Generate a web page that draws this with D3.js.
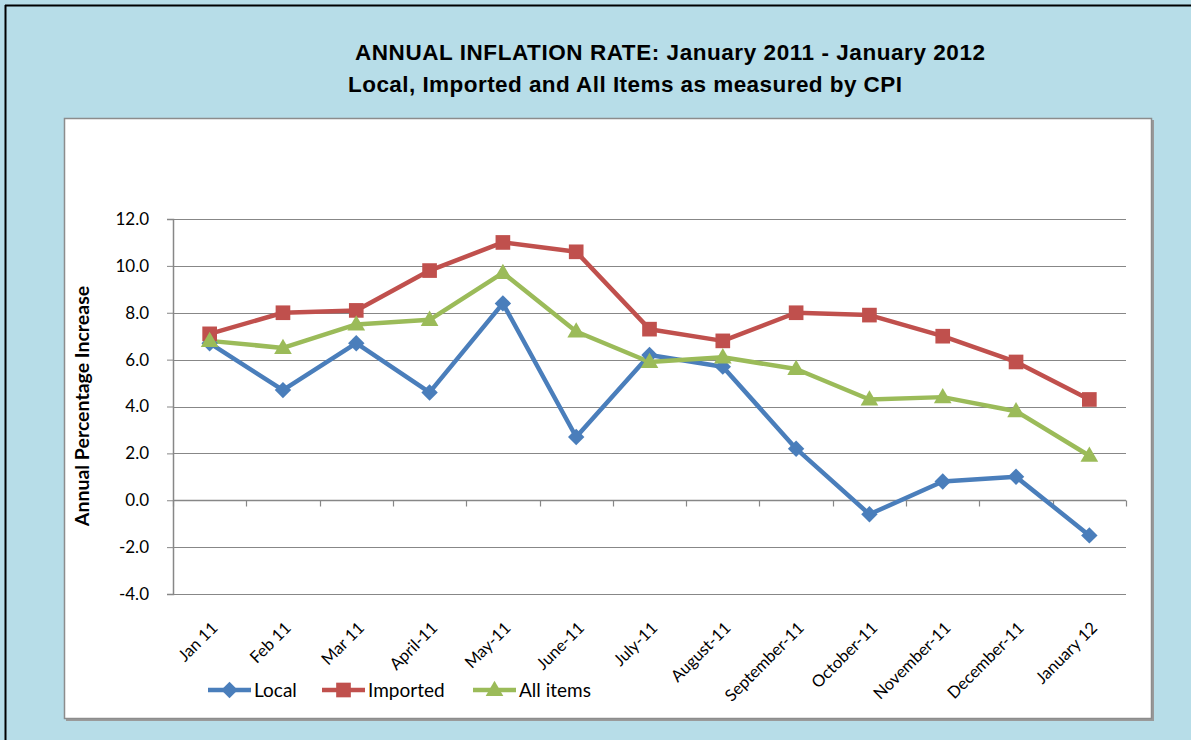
<!DOCTYPE html>
<html>
<head>
<meta charset="utf-8">
<script src="https://cdn.jsdelivr.net/npm/d3@7"></script>
<style>
  html, body { margin: 0; padding: 0; background: #b7dde8; }
  svg { display: block; }
</style>
</head>
<body>
<svg id="chart" width="1191" height="740"></svg>
<script>
const categories = ["Jan 11", "Feb 11", "Mar 11", "April-11", "May-11", "June-11", "July-11",
  "August-11", "September-11", "October-11", "November-11", "December-11", "January 12"];
const localValues    = [6.7, 4.7, 6.7, 4.6, 8.4, 2.7, 6.2, 5.7, 2.2, -0.6, 0.8, 1.0, -1.5];
const importedValues = [7.1, 8.0, 8.1, 9.8, 11.0, 10.6, 7.3, 6.8, 8.0, 7.9, 7.0, 5.9, 4.3];
const allItemsValues = [6.8, 6.5, 7.5, 7.7, 9.7, 7.2, 5.9, 6.1, 5.6, 4.3, 4.4, 3.8, 1.9];
const yTicks = [-4, -2, 0, 2, 4, 6, 8, 10, 12];
const seriesNames = ["Local", "Imported", "All items"];
const titleLines = ["ANNUAL INFLATION RATE: January 2011 - January 2012",
  "Local, Imported and All Items as measured by CPI"];
const yAxisTitle = "Annual Percentage Increase";

(function () {
const series = [
  { name: seriesNames[0], values: localValues, color: "#4a7ebb", symbol: "diamond" },
  { name: seriesNames[1], values: importedValues, color: "#c0504d", symbol: "square" },
  { name: seriesNames[2], values: allItemsValues, color: "#9bbb59", symbol: "triangle" }
];

const svg = d3.select("#chart");
const W = 1191, H = 740;

svg.append("rect").attr("x", 0).attr("y", 0).attr("width", W).attr("height", H).attr("fill", "#b7dde8");
svg.append("line").attr("x1", 5).attr("x2", W).attr("y1", 5.5).attr("y2", 5.5).attr("stroke", "#000").attr("stroke-width", 2);
svg.append("line").attr("x1", 5.5).attr("x2", 5.5).attr("y1", 5).attr("y2", H).attr("stroke", "#000").attr("stroke-width", 2);

// plot panel
svg.append("rect").attr("x", 66).attr("y", 120).attr("width", 1088).attr("height", 601).attr("fill", "#9a9a9a");
svg.append("rect").attr("x", 64.5).attr("y", 118.5).attr("width", 1087).attr("height", 600)
  .attr("fill", "#fff").attr("stroke", "#8c8c8c").attr("stroke-width", 1.5);

// titles
const tf = "'Liberation Sans', Arial, sans-serif";
svg.append("text").attr("x", 355).attr("y", 60)
  .attr("textLength", 630).attr("lengthAdjust", "spacing")
  .attr("font-family", tf).attr("font-weight", "bold").attr("font-size", 22.5).attr("fill", "#000").text(titleLines[0]);
svg.append("text").attr("x", 348).attr("y", 92)
  .attr("textLength", 554).attr("lengthAdjust", "spacing")
  .attr("font-family", tf).attr("font-weight", "bold").attr("font-size", 22.5).attr("fill", "#000").text(titleLines[1]);

const pL = 173, pR = 1126, pT = 219, pB = 594;
const x = d3.scaleBand().domain(categories).range([pL, pR]).paddingInner(0).paddingOuter(0);
const y = d3.scaleLinear().domain([-4, 12]).range([pB, pT]);
const cx = d => x(d) + x.bandwidth() / 2;
const lf = "Lato, 'Open Sans', sans-serif";
const fmt = d => d3.format(".1f")(d).replace("\u2212", "-");

// gridlines
svg.append("g").selectAll("line").data(yTicks).join("line")
  .attr("x1", pL).attr("x2", pR)
  .attr("y1", d => Math.round(y(d)) + 0.5).attr("y2", d => Math.round(y(d)) + 0.5)
  .attr("stroke", "#878787").attr("stroke-width", 1.2);

// y axis
const yAxis = svg.append("g").attr("transform", `translate(${pL},0)`)
  .call(d3.axisLeft(y).tickValues(yTicks).tickFormat(fmt).tickSize(6).tickPadding(18));
yAxis.select(".domain").attr("stroke", "#878787").attr("stroke-width", 1.5);
yAxis.selectAll(".tick line").attr("stroke", "#878787");
yAxis.selectAll("text").attr("font-family", lf).attr("font-size", 17).attr("fill", "#000");

// x axis at zero
const xAxisG = svg.append("g").attr("transform", `translate(0,${Math.round(y(0)) + 0.5})`);
xAxisG.append("line").attr("x1", pL).attr("x2", pR).attr("stroke", "#878787").attr("stroke-width", 1.5);
const bounds = categories.map(c => x(c)).concat([pR]);
xAxisG.selectAll("line.tk").data(bounds).join("line").attr("class", "tk")
  .attr("x1", d => Math.round(d) + 0.5).attr("x2", d => Math.round(d) + 0.5)
  .attr("y1", 0).attr("y2", 6).attr("stroke", "#878787").attr("stroke-width", 1.2);

// x labels (rotated)
svg.append("g").selectAll("text").data(categories).join("text")
  .attr("transform", d => `translate(${cx(d) + 9},${629}) rotate(-45)`)
  .attr("text-anchor", "end")
  .attr("font-family", lf).attr("font-size", 16.5).attr("fill", "#000")
  .text(d => d);

// y axis title
svg.append("text").attr("transform", `translate(89,406) rotate(-90)`)
  .attr("text-anchor", "middle").attr("font-family", lf).attr("font-weight", "bold")
  .attr("font-size", 19.5).attr("fill", "#000").text(yAxisTitle);

// markers
const marker = (sel, sym) => {
  if (sym === "diamond") {
    sel.attr("d", d3.symbol().type(d3.symbolSquare).size(135)());
    return 45;
  }
  if (sym === "square") {
    sel.attr("d", d3.symbol().type(d3.symbolSquare).size(215)());
    return 0;
  }
  sel.attr("d", d3.symbol().type(d3.symbolTriangle).size(135)());
  return 0;
};

const line = d3.line().x((d, i) => cx(categories[i])).y(d => y(d));
series.forEach(s => {
  svg.append("path").datum(s.values).attr("d", line)
    .attr("fill", "none").attr("stroke", s.color).attr("stroke-width", 4.5).attr("stroke-linejoin", "round");
});
series.forEach(s => {
  const dy = s.symbol === "triangle" ? 1 : 0;
  const pts = svg.append("g").selectAll("path").data(s.values).join("path").attr("fill", s.color);
  const rot = marker(pts, s.symbol);
  pts.attr("transform", (d, i) => `translate(${cx(categories[i])},${y(d) + dy}) rotate(${rot})`);
});

// legend
const legendX = [208, 322, 473];
series.forEach((s, i) => {
  const g = svg.append("g").attr("transform", `translate(${legendX[i]},690)`);
  g.append("line").attr("x1", 0).attr("x2", 43).attr("stroke", s.color).attr("stroke-width", 4.5);
  const m = g.append("path").attr("fill", s.color);
  const rot = marker(m, s.symbol);
  m.attr("transform", `translate(21.5,${s.symbol === "triangle" ? 1 : 0}) rotate(${rot})`);
  g.append("text").attr("x", 46).attr("y", 6.5).attr("font-family", lf).attr("font-size", 19)
    .attr("fill", "#000").text(s.name);
});
})();
</script>
</body>
</html>
